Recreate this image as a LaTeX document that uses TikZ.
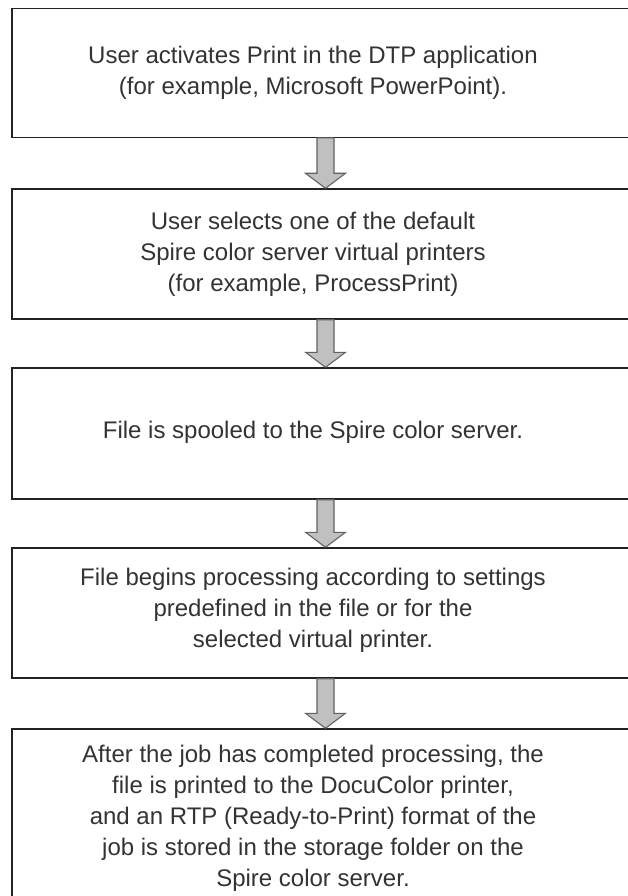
\documentclass[tikz,border=0pt]{standalone}
\usepackage{fontspec}
\setmainfont{Liberation Sans}
\usetikzlibrary{calc}
\definecolor{arrowfill}{HTML}{C0C0C0}
\definecolor{edgecol}{HTML}{222222}
\begin{document}
\begin{tikzpicture}[x=1pt,y=-1pt,
  stepbox/.style={draw=edgecol,line width=1.4pt,rectangle,inner sep=0pt,minimum width=627},
  steptext/.style={align=center,inner sep=0pt,font=\fontsize{24}{31}\selectfont,text=black!80},
  blockarrow/.style={draw=black!62,fill=arrowfill,line width=1.1pt,line join=miter}]
\useasboundingbox (0,0) rectangle (628,896);
\fill[white] (0,0) rectangle (628,896);
\node[stepbox,minimum height=128.5] (b1) at (325.5,73) {};
\node[stepbox,minimum height=130] (b2) at (325.5,254) {};
\node[stepbox,minimum height=131] (b3) at (325.5,433.5) {};
\node[stepbox,minimum height=130] (b4) at (325.5,613) {};
\node[stepbox,minimum height=180] (b5) at (325.5,819) {};
\node[steptext] (t1) at (313,73)
  {User activates Print in the DTP application\\(for example, Microsoft PowerPoint).};
\node[steptext] (t2) at (313,254)
  {User selects one of the default\\Spire color server virtual printers\\(for example, ProcessPrint)};
\node[steptext] (t3) at (313,432)
  {File is spooled to the Spire color server.};
\node[steptext] (t4) at (313,610)
  {File begins processing according to settings\\predefined in the file or for the\\selected virtual printer.};
\node[steptext] (t5) at (313,818)
  {After the job has completed processing, the\\file is printed to the DocuColor printer,\\and an RTP (Ready-to-Print) format of the\\job is stored in the storage folder on the\\Spire color server.};
\foreach \a/\b in {b1/b2,b2/b3,b3/b4,b4/b5}{
  \path let \p1=(\a.south), \p2=(\b.north) in
    [blockarrow] (\x1-8.5pt,\y1) -- (\x1+8.5pt,\y1) -- (\x1+8.5pt,\y2+15pt) -- (\x1+20pt,\y2+15pt)
    -- (\x1,\y2) -- (\x1-20pt,\y2+15pt) -- (\x1-8.5pt,\y2+15pt) -- cycle;
}
\end{tikzpicture}
\end{document}
